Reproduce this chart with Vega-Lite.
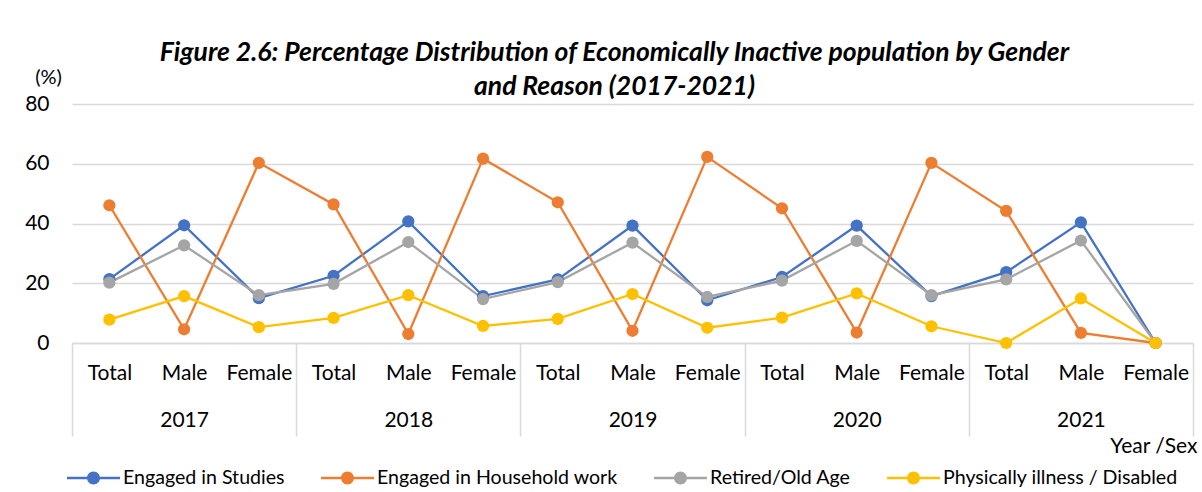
{
  "$schema": "https://vega.github.io/schema/vega-lite/v6.json",
  "autosize": "none",
  "width": 1121,
  "height": 239,
  "padding": {"left": 72, "top": 104, "right": 9, "bottom": 149},
  "background": "white",
  "config": {
    "font": "Lato",
    "view": {"stroke": null}
  },
  "title": {
    "text": ["Figure 2.6:  Percentage Distribution of Economically Inactive population by Gender", "and Reason (2017-2021)"],
    "font": "Lato",
    "fontSize": 26.5,
    "fontStyle": "italic",
    "fontWeight": "bold",
    "color": "#000000",
    "anchor": "middle",
    "dx": -18,
    "lineHeight": 34,
    "offset": -33
  },
  "data": {
    "values": [
      {"cat": "2017 Total", "year": 2017, "series": "Engaged in Studies", "value": 21.4},
      {"cat": "2017 Male", "year": 2017, "series": "Engaged in Studies", "value": 39.4},
      {"cat": "2017 Female", "year": 2017, "series": "Engaged in Studies", "value": 15.0},
      {"cat": "2018 Total", "year": 2018, "series": "Engaged in Studies", "value": 22.5},
      {"cat": "2018 Male", "year": 2018, "series": "Engaged in Studies", "value": 40.7},
      {"cat": "2018 Female", "year": 2018, "series": "Engaged in Studies", "value": 15.7},
      {"cat": "2019 Total", "year": 2019, "series": "Engaged in Studies", "value": 21.3},
      {"cat": "2019 Male", "year": 2019, "series": "Engaged in Studies", "value": 39.3},
      {"cat": "2019 Female", "year": 2019, "series": "Engaged in Studies", "value": 14.3},
      {"cat": "2020 Total", "year": 2020, "series": "Engaged in Studies", "value": 22.1},
      {"cat": "2020 Male", "year": 2020, "series": "Engaged in Studies", "value": 39.3},
      {"cat": "2020 Female", "year": 2020, "series": "Engaged in Studies", "value": 15.7},
      {"cat": "2021 Total", "year": 2021, "series": "Engaged in Studies", "value": 23.7},
      {"cat": "2021 Male", "year": 2021, "series": "Engaged in Studies", "value": 40.4},
      {"cat": "2021 Female", "year": 2021, "series": "Engaged in Studies", "value": 0},
      {"cat": "2017 Total", "year": 2017, "series": "Engaged in Household work", "value": 46.1},
      {"cat": "2017 Male", "year": 2017, "series": "Engaged in Household work", "value": 4.6},
      {"cat": "2017 Female", "year": 2017, "series": "Engaged in Household work", "value": 60.3},
      {"cat": "2018 Total", "year": 2018, "series": "Engaged in Household work", "value": 46.4},
      {"cat": "2018 Male", "year": 2018, "series": "Engaged in Household work", "value": 3.0},
      {"cat": "2018 Female", "year": 2018, "series": "Engaged in Household work", "value": 61.7},
      {"cat": "2019 Total", "year": 2019, "series": "Engaged in Household work", "value": 47.1},
      {"cat": "2019 Male", "year": 2019, "series": "Engaged in Household work", "value": 4.1},
      {"cat": "2019 Female", "year": 2019, "series": "Engaged in Household work", "value": 62.3},
      {"cat": "2020 Total", "year": 2020, "series": "Engaged in Household work", "value": 45.1},
      {"cat": "2020 Male", "year": 2020, "series": "Engaged in Household work", "value": 3.5},
      {"cat": "2020 Female", "year": 2020, "series": "Engaged in Household work", "value": 60.3},
      {"cat": "2021 Total", "year": 2021, "series": "Engaged in Household work", "value": 44.2},
      {"cat": "2021 Male", "year": 2021, "series": "Engaged in Household work", "value": 3.4},
      {"cat": "2021 Female", "year": 2021, "series": "Engaged in Household work", "value": 0},
      {"cat": "2017 Total", "year": 2017, "series": "Retired/Old Age", "value": 20.2},
      {"cat": "2017 Male", "year": 2017, "series": "Retired/Old Age", "value": 32.7},
      {"cat": "2017 Female", "year": 2017, "series": "Retired/Old Age", "value": 16.0},
      {"cat": "2018 Total", "year": 2018, "series": "Retired/Old Age", "value": 19.8},
      {"cat": "2018 Male", "year": 2018, "series": "Retired/Old Age", "value": 33.8},
      {"cat": "2018 Female", "year": 2018, "series": "Retired/Old Age", "value": 14.7},
      {"cat": "2019 Total", "year": 2019, "series": "Retired/Old Age", "value": 20.4},
      {"cat": "2019 Male", "year": 2019, "series": "Retired/Old Age", "value": 33.6},
      {"cat": "2019 Female", "year": 2019, "series": "Retired/Old Age", "value": 15.4},
      {"cat": "2020 Total", "year": 2020, "series": "Retired/Old Age", "value": 20.9},
      {"cat": "2020 Male", "year": 2020, "series": "Retired/Old Age", "value": 34.2},
      {"cat": "2020 Female", "year": 2020, "series": "Retired/Old Age", "value": 16.0},
      {"cat": "2021 Total", "year": 2021, "series": "Retired/Old Age", "value": 21.3},
      {"cat": "2021 Male", "year": 2021, "series": "Retired/Old Age", "value": 34.3},
      {"cat": "2021 Female", "year": 2021, "series": "Retired/Old Age", "value": 0},
      {"cat": "2017 Total", "year": 2017, "series": "Physically illness / Disabled", "value": 7.8},
      {"cat": "2017 Male", "year": 2017, "series": "Physically illness / Disabled", "value": 15.7},
      {"cat": "2017 Female", "year": 2017, "series": "Physically illness / Disabled", "value": 5.3},
      {"cat": "2018 Total", "year": 2018, "series": "Physically illness / Disabled", "value": 8.4},
      {"cat": "2018 Male", "year": 2018, "series": "Physically illness / Disabled", "value": 16.0},
      {"cat": "2018 Female", "year": 2018, "series": "Physically illness / Disabled", "value": 5.7},
      {"cat": "2019 Total", "year": 2019, "series": "Physically illness / Disabled", "value": 8.1},
      {"cat": "2019 Male", "year": 2019, "series": "Physically illness / Disabled", "value": 16.4},
      {"cat": "2019 Female", "year": 2019, "series": "Physically illness / Disabled", "value": 5.1},
      {"cat": "2020 Total", "year": 2020, "series": "Physically illness / Disabled", "value": 8.5},
      {"cat": "2020 Male", "year": 2020, "series": "Physically illness / Disabled", "value": 16.6},
      {"cat": "2020 Female", "year": 2020, "series": "Physically illness / Disabled", "value": 5.6},
      {"cat": "2021 Total", "year": 2021, "series": "Physically illness / Disabled", "value": 0},
      {"cat": "2021 Male", "year": 2021, "series": "Physically illness / Disabled", "value": 14.9},
      {"cat": "2021 Female", "year": 2021, "series": "Physically illness / Disabled", "value": 0}
    ]
  },
  "resolve": {"scale": {"x": "independent"}, "axis": {"x": "independent"}},
  "layer": [
    {
      "mark": {"type": "line", "strokeWidth": 2.3, "point": {"filled": true, "size": 150, "opacity": 1}},
      "encoding": {
        "x": {
          "field": "cat", "type": "ordinal", "sort": null,
          "scale": {"type": "point", "padding": 0.5},
          "axis": {
            "orient": "bottom", "title": null, "labelAngle": 0, "ticks": false, "tickSize": 0,
            "labelExpr": "split(datum.label, ' ')[1]",
            "labelFont": "Lato", "labelFontSize": 21, "labelColor": "#000000",
            "labelBaseline": "middle", "labelPadding": 30,
            "domainColor": "#D9D9D9", "domainWidth": 1.5, "grid": false
          }
        },
        "y": {
          "field": "value", "type": "quantitative",
          "scale": {"domain": [0, 80], "nice": false},
          "axis": {
            "values": [0, 20, 40, 60, 80], "title": "(%)",
            "titleAngle": 0, "titleX": -24, "titleY": -27, "titleAlign": "center", "titleBaseline": "middle",
            "titleFont": "Lato", "titleFontSize": 20, "titleFontWeight": "normal", "titleColor": "#000000",
            "labelFont": "Lato", "labelFontSize": 21, "labelColor": "#000000", "labelPadding": 23,
            "ticks": false, "domain": false,
            "grid": true, "gridColor": "#D9D9D9", "gridWidth": 1.5
          }
        },
        "color": {
          "field": "series", "type": "nominal", "sort": null,
          "scale": {
            "domain": ["Engaged in Studies", "Engaged in Household work", "Retired/Old Age", "Physically illness / Disabled"],
            "range": ["#4472C4", "#ED7D31", "#A5A5A5", "#FFC000"]
          },
          "legend": {
            "orient": "none", "legendX": -5, "legendY": 347, "direction": "horizontal",
            "title": null,
            "symbolType": "M-1,-0.047H1V0.047H-1Z M0.245,0A0.245,0.245,0,1,1,-0.245,0A0.245,0.245,0,1,1,0.245,0Z",
            "symbolSize": 2809, "symbolStrokeWidth": 0,
            "labelFont": "Lato", "labelFontSize": 19.6, "labelColor": "#000000", "labelOffset": 3, "labelLimit": 500,
            "columnPadding": 36,
            "encode": {"symbols": {"update": {"fill": {"scale": "color", "field": "value"}, "strokeWidth": {"value": 0}, "opacity": {"value": 1}}}}
          }
        }
      }
    },
    {
      "mark": {"type": "point", "opacity": 0},
      "encoding": {
        "x": {
          "field": "year", "type": "quantitative",
          "scale": {"domain": [2016.5, 2021.5], "nice": false, "zero": false},
          "axis": {
            "orient": "bottom", "title": null, "values": [2016.5, 2017.5, 2018.5, 2019.5, 2020.5, 2021.5],
            "labels": false, "domain": false, "grid": false,
            "ticks": true, "tickSize": 93, "tickColor": "#D9D9D9", "tickWidth": 1.5
          }
        }
      }
    },
    {
      "mark": {"type": "point", "opacity": 0},
      "encoding": {
        "x": {
          "field": "year", "type": "quantitative",
          "scale": {"domain": [2016.5, 2021.5], "nice": false, "zero": false},
          "axis": {
            "orient": "bottom", "values": [2017, 2018, 2019, 2020, 2021], "format": "d",
            "domain": false, "grid": false, "ticks": false, "tickSize": 0,
            "labelFont": "Lato", "labelFontSize": 21, "labelColor": "#000000",
            "labelBaseline": "middle", "labelPadding": 77, "labelFlush": false,
            "title": "Year /Sex", "titleFont": "Lato", "titleFontSize": 21, "titleFontWeight": "normal", "titleColor": "#000000",
            "titleX": 1125, "titleY": 103, "titleAlign": "right", "titleBaseline": "middle", "titleAnchor": null
          }
        }
      }
    }
  ]
}
